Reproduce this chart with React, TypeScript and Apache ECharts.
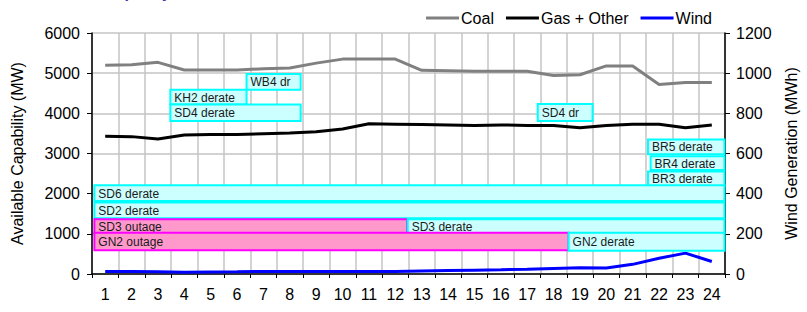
import React, { useEffect, useRef } from "react";
import * as echarts from "echarts";

const hours = ["1","2","3","4","5","6","7","8","9","10","11","12","13","14","15","16","17","18","19","20","21","22","23","24"];
const coal = [5200, 5210, 5270, 5080, 5080, 5080, 5110, 5130, 5250, 5350, 5350, 5350, 5070, 5060, 5050, 5050, 5050, 4940, 4960, 5180, 5180, 4720, 4770, 4770];
const gasOther = [3430, 3420, 3360, 3460, 3470, 3470, 3490, 3510, 3540, 3610, 3740, 3730, 3720, 3710, 3700, 3710, 3700, 3700, 3640, 3700, 3730, 3730, 3640, 3710];
const wind = [12, 13, 11, 9, 10, 11, 13, 12, 12, 12, 13, 13, 15, 17, 19, 21, 24, 28, 31, 30, 48, 78, 104, 62];

const leftTicks = { min: 0, max: 6000, interval: 1000 };
const rightTicks = { min: 0, max: 1200, interval: 200 };

const boxLabels = ["WB4 dr", "KH2 derate", "SD4 derate", "SD4 dr", "BR5 derate", "BR4 derate", "BR3 derate", "SD6 derate", "SD2 derate", "SD3 outage", "SD3 derate", "GN2 outage", "GN2 derate"];
const boxKind = ["derate", "derate", "derate", "derate", "derate", "derate", "derate", "derate", "derate", "outage", "derate", "outage", "derate"];
const boxStart = [6.36, 3.47, 3.47, 17.4, 21.58, 21.68, 21.58, 0.59, 0.59, 0.59, 12.47, 0.59, 18.57];
const boxEnd = [8.41, 6.36, 8.41, 19.48, 24.48, 24.48, 24.48, 24.48, 24.48, 12.45, 24.48, 18.57, 24.48];
const boxLow = [4590, 4220, 3810, 3810, 2980, 2590, 2190, 1820, 1385, 1020, 1020, 590, 580];
const boxHigh = [4980, 4585, 4220, 4235, 3350, 2930, 2550, 2210, 1780, 1365, 1365, 1030, 1030];

const FONT = '"Liberation Sans", Arial, sans-serif';
const plain = (v: number) => String(v);

export default function App() {
  const ref = useRef<HTMLDivElement>(null);
  useEffect(() => {
    document.body.style.margin = "0";
    const chart = echarts.init(ref.current!, null, { renderer: "svg" });
    const boxData = boxStart.map((s, i) => [s, boxEnd[i], boxLow[i], boxHigh[i]]);
    chart.setOption({
      animation: false,
      backgroundColor: "#ffffff",
      textStyle: { fontFamily: FONT },
      graphic: [
        {
          type: "text",
          left: 30,
          top: -16,
          style: { text: "Available Capacity", font: `bold 16px ${FONT}`, fill: "#3a3aa8" },
        },
      ],
      legend: {
        right: 90,
        top: 5,
        itemWidth: 33,
        itemHeight: 3,
        itemGap: 12,
        icon: "rect",
        textStyle: { fontSize: 16, color: "#000", fontFamily: FONT, padding: [0, 0, 0, -3] },
        data: ["Coal", "Gas + Other", "Wind"],
      },
      grid: { left: 92, right: 76, top: 33, bottom: 38, containLabel: false },
      xAxis: [
        {
          type: "category",
          data: hours,
          boundaryGap: true,
          axisLine: { lineStyle: { color: "#000", width: 1.5 } },
          axisTick: { show: true, length: 4, lineStyle: { color: "#000" } },
          axisLabel: { fontSize: 16, color: "#000", margin: 12, fontFamily: FONT },
          splitLine: { show: true, lineStyle: { color: "#c4c4c4", width: 1.5 } },
        },
        { type: "value", min: 0.5, max: 24.5, show: false },
      ],
      yAxis: [
        {
          type: "value",
          ...leftTicks,
          name: "Available Capability (MW)",
          nameLocation: "middle",
          nameRotate: 90,
          nameGap: 67,
          nameTextStyle: { fontSize: 16, color: "#000", fontFamily: FONT },
          axisLine: { show: true, lineStyle: { color: "#000", width: 1.5 } },
          axisTick: { show: true, length: 5, lineStyle: { color: "#000" } },
          axisLabel: { fontSize: 16, color: "#000", margin: 12, fontFamily: FONT, formatter: plain },
          splitLine: { show: true, lineStyle: { color: "#c4c4c4", width: 1.5 } },
        },
        {
          type: "value",
          ...rightTicks,
          position: "right",
          name: "Wind Generation (MWh)",
          nameLocation: "middle",
          nameRotate: 90,
          nameGap: 58,
          nameTextStyle: { fontSize: 16, color: "#000", fontFamily: FONT },
          axisLine: { show: true, lineStyle: { color: "#000", width: 1.5 } },
          axisTick: { show: true, length: 5, lineStyle: { color: "#000" } },
          axisLabel: { fontSize: 16, color: "#000", margin: 11, fontFamily: FONT, formatter: plain },
          splitLine: { show: false },
        },
      ],
      series: [
        {
          name: "Coal",
          type: "line",
          data: coal,
          yAxisIndex: 0,
          showSymbol: false,
          symbol: "none",
          color: "#808080",
          lineStyle: { color: "#808080", width: 3 },
          z: 2,
        },
        {
          name: "Gas + Other",
          type: "line",
          data: gasOther,
          yAxisIndex: 0,
          showSymbol: false,
          symbol: "none",
          color: "#000000",
          lineStyle: { color: "#000000", width: 3 },
          z: 2,
        },
        {
          name: "Wind",
          type: "line",
          data: wind,
          yAxisIndex: 1,
          showSymbol: false,
          symbol: "none",
          color: "#0000ff",
          lineStyle: { color: "#0000ff", width: 3 },
          z: 2,
        },
        {
          name: "boxes",
          type: "custom",
          xAxisIndex: 1,
          yAxisIndex: 0,
          clip: false,
          z: 3,
          data: boxData,
          encode: { x: [0, 1], y: [2, 3] },
          renderItem: (params: any, api: any) => {
            const i = params.dataIndex;
            const p0 = api.coord([api.value(0), api.value(3)]);
            const p1 = api.coord([api.value(1), api.value(2)]);
            const outage = boxKind[i] === "outage";
            return {
              type: "group",
              children: [
                {
                  type: "rect",
                  shape: { x: p0[0], y: p0[1], width: p1[0] - p0[0], height: p1[1] - p0[1] },
                  style: {
                    fill: outage ? "#ff99cc" : "#ccffff",
                    stroke: outage ? "#ff00ff" : "#00ffff",
                    lineWidth: 2,
                  },
                },
                {
                  type: "text",
                  style: {
                    text: boxLabels[i],
                    x: p0[0] + 4,
                    y: (p0[1] + p1[1]) / 2 + 0.5,
                    align: "left",
                    verticalAlign: "middle",
                    font: `12px ${FONT}`,
                    fill: "#1a1a1a",
                  },
                },
              ],
            };
          },
        },
      ],
    });
    return () => chart.dispose();
  }, []);
  return <div ref={ref} style={{ width: 807, height: 312, position: "absolute", left: 0, top: 0 }} />;
}
